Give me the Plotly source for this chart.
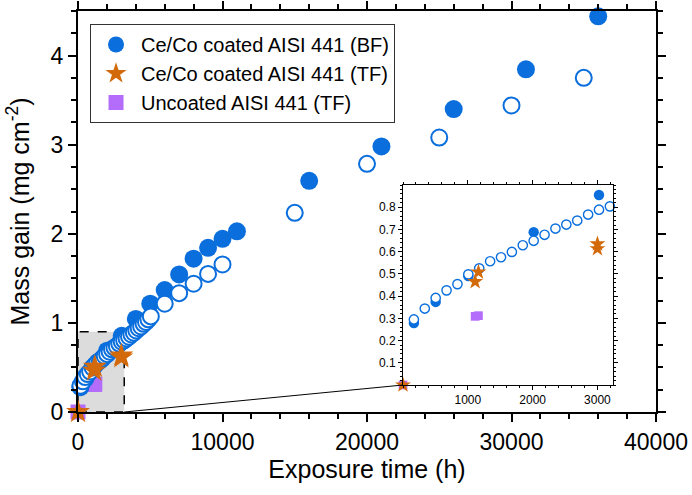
import plotly.graph_objects as go

# ---------------- data ----------------
bf_filled_x = [168, 504, 1008, 2016, 3024, 4000, 5000, 6000, 7000, 8000, 9000,
               10000, 11000, 16000, 21000, 26000, 31000, 36000]
bf_filled_y = [0.279, 0.374, 0.49, 0.688, 0.855, 1.045, 1.215, 1.368, 1.544, 1.72, 1.843,
               1.944, 2.028, 2.594, 2.98, 3.40, 3.845, 4.44]

bf_open_x = [168, 336, 504, 672, 840, 1008, 1176, 1344, 1512, 1680, 1848, 2016,
             2184, 2352, 2520, 2688, 2856, 3024, 3192, 3360, 3528, 3696, 3864,
             4032, 4200, 4368, 4536, 4704, 4872, 5040, 6000, 7000, 8000, 9000,
             10000, 15000, 20000, 25000, 30000, 35000]
bf_open_y = [0.295, 0.344, 0.392, 0.426, 0.454, 0.498, 0.525, 0.557, 0.575, 0.599,
             0.629, 0.649, 0.676, 0.704, 0.722, 0.740, 0.767, 0.789, 0.804, 0.825,
             0.845, 0.87, 0.89, 0.915, 0.94, 0.96, 0.99, 1.01, 1.04, 1.073, 1.215,
             1.334, 1.44, 1.55, 1.656, 2.235, 2.785, 3.08, 3.44, 3.75]

tf_x = [0, 1113, 1164, 3000, 3000]
tf_y = [0, 0.465, 0.508, 0.613, 0.635]

unc_x = [0, 1113, 1164]
unc_y = [0, 0.309, 0.312]

names = ["Ce/Co coated AISI 441 (BF)", "Ce/Co coated AISI 441 (TF)", "Uncoated AISI 441 (TF)"]

main_xticks = [0, 10000, 20000, 30000, 40000]
main_xticktext = ["0", "10000", "20000", "30000", "40000"]
main_yticks = [0, 1, 2, 3, 4]
inset_xticks = [1000, 2000, 3000]
inset_yticks = [0.1, 0.2, 0.3, 0.4, 0.5, 0.6, 0.7, 0.8]

# ---------------- styles ----------------
BLUE = "#0a6edc"
ORANGE = "#d2690a"
PURPLE = "#b46cfa"
FONT = "Liberation Sans, Arial, sans-serif"

main_range_x = [0, 40000]
main_range_y = [0, 4.5]
inset_range_x = [0, 3240]
inset_range_y = [0, 0.9]
box_x = [0, 3200]
box_y = [0, 0.9]
inset_dom_x = [0.5623, 0.9256]
inset_dom_y = [0.0673, 0.566]

fig = go.Figure()

def add_set(xa, ya, big, show):
    s = 1.0 if big else 0.58
    fig.add_trace(go.Scatter(x=unc_x, y=unc_y, mode="markers", name=names[2],
                             xaxis=xa, yaxis=ya, showlegend=show, legendrank=3,
                             marker=dict(symbol="square", size=15 * s, color=PURPLE,
                                         line=dict(width=0)), cliponaxis=False))
    fig.add_trace(go.Scatter(x=bf_filled_x, y=bf_filled_y, mode="markers", name=names[0],
                             xaxis=xa, yaxis=ya, showlegend=show, legendrank=1,
                             marker=dict(symbol="circle", size=18 * s, color=BLUE,
                                         line=dict(width=0)), cliponaxis=False))
    fig.add_trace(go.Scatter(x=bf_open_x, y=bf_open_y, mode="markers", name=names[0],
                             xaxis=xa, yaxis=ya, showlegend=False,
                             marker=dict(symbol="circle", size=16 * s, color="white",
                                         line=dict(width=2 if big else 1.4, color=BLUE)),
                             cliponaxis=False))
    fig.add_trace(go.Scatter(x=tf_x, y=tf_y, mode="markers", name=names[1],
                             xaxis=xa, yaxis=ya, showlegend=show, legendrank=2,
                             marker=dict(symbol="star", size=18 * s if big else 12, color=ORANGE,
                                         line=dict(width=0)), cliponaxis=False))

add_set("x", "y", True, True)
add_set("x2", "y2", False, False)

# zoom box and connector line
fig.add_shape(type="rect", xref="x", yref="y", x0=box_x[0], x1=box_x[1], y0=box_y[0], y1=box_y[1],
              fillcolor="#dcdcdc", line=dict(color="black", width=1.5, dash="dash"), layer="below")
fig.add_shape(type="line", xref="x", yref="y", x0=box_x[1], y0=box_y[0],
              x1=inset_dom_x[0] * main_range_x[1], y1=inset_dom_y[0] * main_range_y[1],
              line=dict(color="black", width=1))

axis_common = dict(showline=True, linecolor="black", mirror="ticks", ticks="outside",
                   showgrid=False, zeroline=False, tickcolor="black", automargin=False)

fig.update_layout(
    width=692, height=495,
    margin=dict(l=78, r=36, t=11, b=83),
    paper_bgcolor="white", plot_bgcolor="white",
    font=dict(family=FONT, color="black"),
    xaxis=dict(range=main_range_x, tickvals=main_xticks, ticktext=main_xticktext,
               linewidth=2, tickwidth=2, ticklen=8,
               tickfont=dict(size=23), title=dict(text="Exposure time (h)", font=dict(size=25), standoff=6),
               minor=dict(dtick=2000, ticklen=5, tickwidth=1.5, ticks="outside", tickcolor="black"),
               **axis_common),
    yaxis=dict(range=main_range_y, tickvals=main_yticks, linewidth=2, tickwidth=2, ticklen=8,
               tickfont=dict(size=23), title=dict(text="Mass gain (mg cm<sup>-2</sup>)", font=dict(size=25), standoff=14),
               minor=dict(dtick=0.25, ticklen=5, tickwidth=1.5, ticks="outside", tickcolor="black"),
               **axis_common),
    xaxis2=dict(domain=inset_dom_x, anchor="y2", range=inset_range_x, tickvals=inset_xticks,
                linewidth=1, tickwidth=1, ticklen=4, tickfont=dict(size=12),
                minor=dict(dtick=200, ticklen=2, tickwidth=1, ticks="outside", tickcolor="black"),
                **axis_common),
    yaxis2=dict(domain=inset_dom_y, anchor="x2", range=inset_range_y, tickvals=inset_yticks,
                linewidth=1, tickwidth=1, ticklen=4, tickfont=dict(size=12),
                minor=dict(dtick=0.02, ticklen=2, tickwidth=1, ticks="outside", tickcolor="black"),
                **axis_common),
    legend=dict(x=0.0208, y=0.9676, xanchor="left", yanchor="top", bgcolor="white",
                bordercolor="#333", borderwidth=1, font=dict(size=20), tracegroupgap=0,
                itemwidth=40),
    showlegend=True,
)

fig.write_html("out.html", config={"displayModeBar": False},
               post_script="document.body.style.margin='0px';")
